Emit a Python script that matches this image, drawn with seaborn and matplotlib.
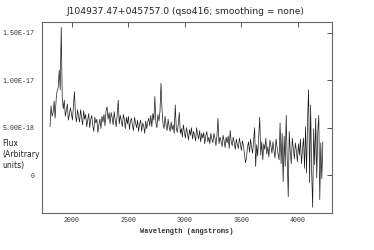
import numpy as np
import pandas as pd
from matplotlib import pyplot as plt
from matplotlib.ticker import FixedLocator, FuncFormatter
import seaborn as sns

# spectrum sampling (angstroms)
wave_start = 1810
wave_step = 9

# flux in units of 1e-18 in rows of 10 samples
flux_e18 = [
    5.1, 7.3, 6.2, 6.6, 7.8, 6.0, 8.0, 8.9, 9.2, 11.1,    # 1810
    9.0, 15.6, 8.2, 7.0, 7.9, 6.2, 6.8, 7.5, 5.8, 6.4,    # 1900
    7.1, 6.5, 5.8, 7.3, 8.8, 6.3, 5.6, 6.9, 6.2, 5.6,     # 1990
    6.9, 6.1, 5.3, 6.8, 5.9, 6.4, 5.1, 5.8, 6.5, 5.0,     # 2080
    5.9, 6.3, 5.2, 4.6, 6.1, 5.5, 5.9, 4.5, 5.3, 5.9,     # 2170
    4.9, 6.2, 5.6, 6.4, 5.2, 6.8, 7.2, 5.9, 6.6, 5.4,     # 2260
    6.6, 6.1, 5.3, 6.7, 5.8, 5.1, 6.4, 7.9, 5.4, 6.3,     # 2350
    5.7, 5.1, 6.4, 5.9, 4.9, 6.1, 5.4, 6.2, 4.8, 5.7,     # 2440
    6.0, 5.2, 4.7, 6.1, 5.5, 5.0, 5.8, 4.6, 5.4, 5.8,     # 2530
    4.6, 5.5, 5.2, 4.4, 5.7, 4.9, 5.6, 6.0, 5.2, 6.3,     # 2620
    5.1, 6.5, 5.8, 8.3, 5.5, 5.0, 6.4, 5.7, 6.7, 9.7,     # 2710
    6.9, 5.4, 4.9, 6.2, 5.3, 4.7, 5.9, 5.1, 4.6, 5.6,     # 2800
    4.8, 5.3, 4.4, 7.4, 5.0, 4.5, 5.4, 6.6, 4.4, 4.9,     # 2890
    4.0, 5.3, 4.5, 3.9, 5.0, 4.4, 3.7, 4.8, 4.2, 5.0,     # 2980
    3.8, 4.6, 4.2, 3.6, 5.0, 4.3, 3.8, 4.7, 3.5, 4.4,     # 3070
    3.9, 4.5, 3.3, 4.1, 4.6, 3.5, 4.0, 3.3, 4.4, 3.8,     # 3160
    3.4, 4.4, 3.9, 3.1, 4.2, 6.0, 3.3, 4.0, 3.6, 3.0,     # 3250
    4.2, 3.6, 2.9, 4.0, 3.4, 4.1, 2.8, 4.7, 3.5, 3.1,     # 3340
    4.0, 3.4, 2.7, 3.8, 3.2, 2.8, 3.9, 3.3, 2.6, 3.6,     # 3430
    3.1, 2.2, 1.3, 1.8, 3.0, 3.5, 2.4, 3.8, 2.9, 2.3,     # 3520
    3.6, 5.0, 0.9, 3.2, 2.0, 4.0, 6.1, 2.1, 3.5, 1.6,     # 3610
    3.3, 2.7, 3.9, 2.2, 3.0, 1.9, 3.7, 3.1, 2.3, 3.5,     # 3700
    2.6, 1.8, 3.8, 2.9, 2.2, 1.6, 5.5, 1.2, 4.4, -0.7,    # 3790
    4.1, 0.9, 6.3, 1.7, -2.3, 4.6, 2.4, 1.2, 3.9, 2.8,    # 3880
    1.7, 3.4, 2.6, 1.4, 3.3, 2.1, 3.8, 1.2, 2.7, 3.9,     # 3970
    0.7, 5.1, 0.2, 5.9, 9.0, -0.8, 7.4, 0.4, -3.4, 4.9,   # 4060
    1.1, 6.0, -0.3, 4.5, 6.3, -2.6, 3.4, -0.4, 3.5,       # 4150
]

x_ticks = [2000, 2500, 3000, 3500, 4000]
y_ticks = [0, 5e-18, 1e-17, 1.5e-17]
y_tick_labels = ['0', '5.00E-18', '1.00E-17', '1.50E-17']

title = 'J104937.47+045757.0 (qso416; smoothing = none)'

flux = np.array(flux_e18) * 1e-18
wavelength = wave_start + wave_step * np.arange(len(flux))
df = pd.DataFrame({'wavelength': wavelength, 'flux': flux})

sns.set_style('white')
plt.rcParams['font.family'] = ['DejaVu Sans']

fig = plt.figure(figsize=(3.74, 2.5), dpi=100)
ax = fig.add_axes([42 / 374, 1 - 213 / 250, 290 / 374, 191 / 250])

sns.lineplot(data=df, x='wavelength', y='flux', color='#1a1a1a',
             linewidth=0.5, sort=False, ax=ax)

ax.set_xlim(1739, 4303)
ax.set_ylim(-4.01e-18, 1.616e-17)

ax.xaxis.set_major_locator(FixedLocator(x_ticks))
ax.yaxis.set_major_locator(FixedLocator(y_ticks))
ax.yaxis.set_major_formatter(FuncFormatter(
    lambda v, pos: y_tick_labels[y_ticks.index(v)] if v in y_ticks else ''))

ax.tick_params(direction='in', length=3.6, width=0.7, color='#555555',
               top=True, right=True, labelsize=4.8, pad=5)
ax.tick_params(axis='x', pad=3)
for lab in ax.get_xticklabels() + ax.get_yticklabels():
    lab.set_family('Liberation Mono')
    lab.set_color('#333333')

for sp in ax.spines.values():
    sp.set_color('#666666')
    sp.set_linewidth(0.8)

ax.set_xlabel('Wavelength (angstroms)', family='Liberation Mono',
              fontsize=5.0, fontweight='bold', color='#333333', labelpad=3)
ax.set_ylabel('')

fig.text(185 / 374, 1 - 12 / 250, title, ha='center', va='center',
         fontsize=6.6, color='#222222')
fig.text(2 / 374, 1 - 139 / 250, 'Flux\n(Arbitrary\nunits)', ha='left',
         va='top', fontsize=5.5, linespacing=1.3, color='#222222')

fig.savefig('out.png', dpi=100)
